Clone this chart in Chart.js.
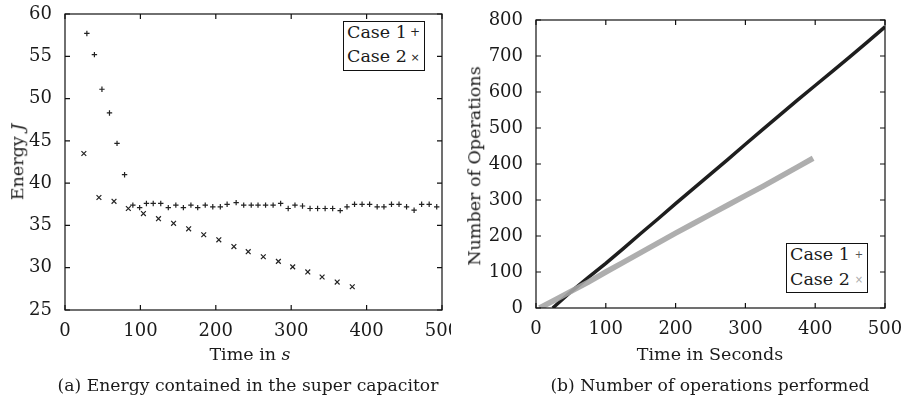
<!DOCTYPE html>
<html>
<head>
<meta charset="utf-8">
<script src="https://cdn.jsdelivr.net/npm/chart.js@4.4.1/dist/chart.umd.min.js"></script>
<style>
  html, body { margin:0; padding:0; background:#fff; }
  #wrap { position:relative; width:902px; height:402px; overflow:hidden; background:#fff;
          font-family:"DejaVu Serif", serif; color:#1a1a1a; }
  canvas { position:absolute; top:0; }
  .t { position:absolute; white-space:nowrap; line-height:1; transform:translate(-50%,-50%); font-size:17.5px; }
  .cap { font-size:17.2px; }
  .rot { transform:translate(-50%,-50%) rotate(-90deg); }
  .leg { position:absolute; border:1.5px solid #111; background:#fff; box-sizing:border-box; }
  .row { position:absolute; white-space:nowrap; line-height:1; font-size:17.5px; transform:translateY(-50%); }
  .mk { position:absolute; line-height:1; transform:translate(-50%,-50%); font-family:"DejaVu Sans", sans-serif; }
</style>
</head>
<body>
<div id="wrap">
  <canvas id="c1" width="451" height="402" style="left:0"></canvas>
  <canvas id="c2" width="451" height="402" style="left:451px"></canvas>

  <div class="t rot" style="left:18px;top:162px">Energy <i>J</i></div>
  <div class="t" style="left:250px;top:355px">Time in <i>s</i></div>
  <div class="t cap" style="left:248px;top:386px">(a) Energy contained in the super capacitor</div>

  <div class="t rot" style="left:475px;top:166px">Number of Operations</div>
  <div class="t" style="left:710px;top:355px">Time in Seconds</div>
  <div class="t cap" style="left:710px;top:386px">(b) Number of operations performed</div>

  <div class="leg" style="left:343px;top:21px;width:82px;height:50px"></div>
  <div class="row" style="left:347px;top:33px">Case 1</div>
  <div class="row" style="left:347px;top:57px">Case 2</div>
  <div class="mk" style="left:415px;top:32px;font-size:12px;color:#222">+</div>
  <div class="mk" style="left:415px;top:57px;font-size:11px;color:#222">×</div>

  <div class="leg" style="left:786px;top:243px;width:82px;height:50px"></div>
  <div class="row" style="left:790px;top:255px">Case 1</div>
  <div class="row" style="left:790px;top:280px">Case 2</div>
  <div class="mk" style="left:859px;top:255px;font-size:10px;color:#555">+</div>
  <div class="mk" style="left:859px;top:280px;font-size:10px;color:#aaa">×</div>
</div>
<script>
// ---- Panel (a): energy in super capacitor ----
const energyCase1Time = [29,39,49,59,69,79,90,99,108,117,127,137,147,157,167,176,186,196,206,215,
  227,237,247,256,266,276,286,296,305,315,325,335,345,355,365,374,384,394,404,414,423,433,443,453,463,473,483,493];
const energyCase1 = [57.7,55.2,51.1,48.3,44.7,41.0,37.4,37.1,37.6,37.6,37.6,37.1,37.4,37.1,37.4,37.1,37.4,37.2,37.2,37.5,
  37.7,37.4,37.4,37.4,37.4,37.4,37.6,37.0,37.4,37.3,37.0,37.0,37.0,37.0,36.75,37.2,37.5,37.5,37.5,37.2,37.2,37.5,37.5,37.2,36.8,37.5,37.5,37.2];
const energyCase2Time = [25,45,65,84,104,124,144,164,184,204,224,243,263,283,302,322,341,361,381];
const energyCase2 = [43.5,38.3,37.85,37.0,36.4,35.8,35.25,34.6,33.9,33.3,32.5,31.9,31.3,30.75,30.1,29.5,28.9,28.3,27.75];
const energyXTicks = [0,100,200,300,400,500];
const energyYTicks = [25,30,35,40,45,50,55,60];

// ---- Panel (b): number of operations ----
const opsCase1Time = [24,50,75,100,125,150,175,200,225,250,275,300,325,350,375,400,425,450,475,500];
const opsCase1 = [0,45,85,124,165,207,248,290,331,372,413,455,496,537,578,618,658,698,739,781];
const opsCase2Time = [5,25,50,75,100,125,150,175,200,225,250,275,300,325,350,375,397];
const opsCase2 = [0,20,46,72,100,127,154,181,208,234,260,286,312,338,365,392,416];
const opsXTicks = [0,100,200,300,400,500];
const opsYTicks = [0,100,200,300,400,500,600,700,800];

const pts = (xs, ys) => xs.map((x, i) => ({x, y: ys[i]}));
const FONT = {family: '"DejaVu Serif", serif', size: 18};

const frameTicks = {
  id: 'frameTicks',
  afterDatasetsDraw(chart) {
    const {ctx, chartArea: a, scales} = chart;
    ctx.save();
    ctx.strokeStyle = '#111';
    ctx.lineWidth = 1.2;
    ctx.strokeRect(a.left, a.top, a.right - a.left, a.bottom - a.top);
    ctx.beginPath();
    scales.x.ticks.forEach(t => {
      const p = scales.x.getPixelForValue(t.value);
      ctx.moveTo(p, a.bottom); ctx.lineTo(p, a.bottom - 5);
      ctx.moveTo(p, a.top); ctx.lineTo(p, a.top + 5);
    });
    scales.y.ticks.forEach(t => {
      const p = scales.y.getPixelForValue(t.value);
      ctx.moveTo(a.left, p); ctx.lineTo(a.left + 5, p);
      ctx.moveTo(a.right, p); ctx.lineTo(a.right - 5, p);
    });
    ctx.stroke();
    ctx.restore();
  }
};

function makeScales(xmin, xmax, xticks, ymin, ymax, yticks, yw, xh) {
  return {
    x: {
      type: 'linear', min: xmin, max: xmax,
      grid: {display: false}, border: {display: false},
      afterBuildTicks: s => { s.ticks = xticks.map(v => ({value: v})); },
      ticks: {font: FONT, color: '#1a1a1a', padding: 3, maxRotation: 0, autoSkip: false},
      afterFit: s => { s.height = xh; s.paddingLeft = 0; s.paddingRight = 0; }
    },
    y: {
      type: 'linear', min: ymin, max: ymax,
      grid: {display: false}, border: {display: false},
      afterBuildTicks: s => { s.ticks = yticks.map(v => ({value: v})); },
      ticks: {font: FONT, color: '#1a1a1a', padding: 5, autoSkip: false},
      afterFit: s => { s.width = yw; s.paddingTop = 0; s.paddingBottom = 0; }
    }
  };
}

const common = {
  responsive: false, maintainAspectRatio: false, animation: false, devicePixelRatio: 1,
  plugins: {legend: {display: false}, tooltip: {enabled: false}}
};

new Chart(document.getElementById('c1'), {
  type: 'scatter',
  data: {
    datasets: [
      {label: 'Case 1', data: pts(energyCase1Time, energyCase1), pointStyle: 'cross', pointRadius: 2.7,
       borderColor: '#222', backgroundColor: '#222', borderWidth: 1.2, clip: false},
      {label: 'Case 2', data: pts(energyCase2Time, energyCase2), pointStyle: 'crossRot', pointRadius: 3.4,
       borderColor: '#222', backgroundColor: '#222', borderWidth: 1.2, clip: false}
    ]
  },
  options: Object.assign({}, common, {
    layout: {padding: {left: 0, right: 9, top: 14, bottom: 0}},
    scales: makeScales(0, 500, energyXTicks, 25, 60, energyYTicks, 65, 92)
  }),
  plugins: [frameTicks]
});

new Chart(document.getElementById('c2'), {
  type: 'scatter',
  data: {
    datasets: [
      {label: 'Case 2', data: pts(opsCase2Time, opsCase2), showLine: true, pointRadius: 0,
       borderColor: 'rgba(165,165,165,0.9)', borderWidth: 5.5, borderCapStyle: 'butt'},
      {label: 'Case 1', data: pts(opsCase1Time, opsCase1), showLine: true, pointRadius: 0,
       borderColor: '#1e1e1e', borderWidth: 3.5, borderCapStyle: 'butt'}
    ]
  },
  options: Object.assign({}, common, {
    layout: {padding: {left: 0, right: 17, top: 20, bottom: 0}},
    scales: makeScales(0, 500, opsXTicks, 0, 800, opsYTicks, 85, 94)
  }),
  plugins: [frameTicks]
});
</script>
</body>
</html>
